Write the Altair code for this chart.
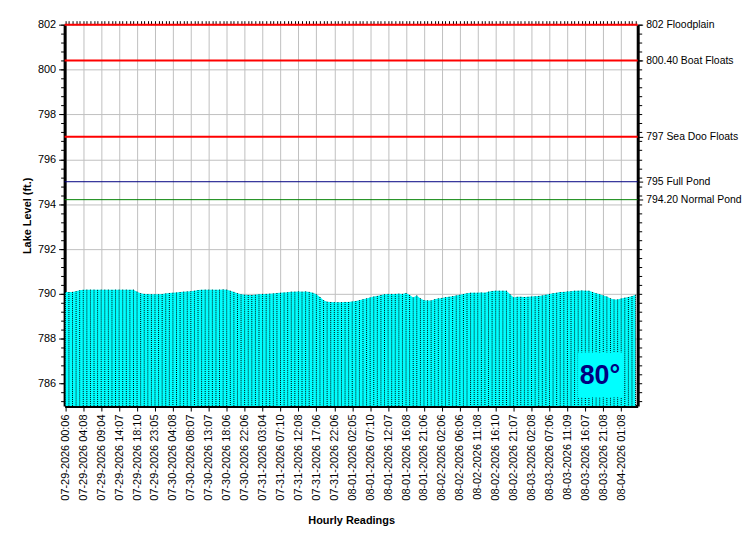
import altair as alt
import pandas as pd

# ---------------- data ----------------
x_labels = [
    "07-29-2026 00:06", "07-29-2026 04:08", "07-29-2026 09:04", "07-29-2026 14:07",
    "07-29-2026 18:10", "07-29-2026 23:05", "07-30-2026 04:08", "07-30-2026 08:07",
    "07-30-2026 13:07", "07-30-2026 18:06", "07-30-2026 22:06", "07-31-2026 03:04",
    "07-31-2026 07:10", "07-31-2026 12:08", "07-31-2026 17:06", "07-31-2026 22:06",
    "08-01-2026 02:05", "08-01-2026 07:10", "08-01-2026 12:07", "08-01-2026 16:08",
    "08-01-2026 21:06", "08-02-2026 02:06", "08-02-2026 06:06", "08-02-2026 11:08",
    "08-02-2026 16:10", "08-02-2026 21:07", "08-03-2026 02:08", "08-03-2026 07:06",
    "08-03-2026 11:09", "08-03-2026 16:07", "08-03-2026 21:08", "08-04-2026 01:08",
]

levels = [
    790.08, 790.08, 790.09, 790.12, 790.16, 790.18, 790.19, 790.19, 790.19, 790.18,
    790.19, 790.19, 790.19, 790.18, 790.19, 790.19, 790.19, 790.19, 790.18, 790.19,
    790.10, 790.03, 790.00, 789.99, 789.98, 789.98, 789.98, 789.99, 790.02, 790.04,
    790.05, 790.06, 790.08, 790.10, 790.11, 790.12, 790.14, 790.17, 790.18, 790.19,
    790.19, 790.19, 790.18, 790.19, 790.20, 790.19, 790.14, 790.09, 790.03, 789.98,
    789.96, 789.95, 789.95, 789.96, 789.98, 790.00, 790.00, 790.01, 790.02, 790.04,
    790.05, 790.06, 790.07, 790.10, 790.10, 790.11, 790.10, 790.11, 790.09, 790.05,
    789.98, 789.86, 789.72, 789.65, 789.64, 789.63, 789.63, 789.63, 789.64, 789.64,
    789.66, 789.68, 789.72, 789.76, 789.80, 789.84, 789.88, 789.91, 789.95, 789.98,
    790.00, 790.00, 790.00, 790.01, 790.00, 790.04, 789.95, 789.84, 789.93, 789.80,
    789.72, 789.71, 789.71, 789.76, 789.80, 789.82, 789.85, 789.87, 789.90, 789.93,
    789.96, 789.99, 790.03, 790.05, 790.05, 790.05, 790.06, 790.05, 790.10, 790.13,
    790.14, 790.14, 790.14, 790.14, 789.98, 789.84, 789.87, 789.87, 789.86, 789.87,
    789.88, 789.89, 789.91, 789.93, 789.96, 790.00, 790.03, 790.05, 790.08, 790.09,
    790.11, 790.12, 790.14, 790.14, 790.15, 790.14, 790.14, 790.08, 790.03, 789.98,
    789.93, 789.88, 789.80, 789.75, 789.75, 789.79, 789.83, 789.86, 789.90, 789.96,
]

ref_values = [802, 800.4, 797, 795, 794.2]
ref_labels = ["802 Floodplain", "800.40 Boat Floats", "797 Sea Doo Floats",
              "795 Full Pond", "794.20 Normal Pond"]
ref_colors = ["#ff0000", "#ff0000", "#ff0000", "#000080", "#008000"]
ref_widths = [2, 2, 2, 1, 1]

y_major = [786, 788, 790, 792, 794, 796, 798, 800, 802]
y_minor = [round(802 - 0.4 * k, 1) for k in range(43)]
temp_text = ["80°"]

# ---------------- tables ----------------
df = pd.DataFrame({"i": list(range(len(levels))), "level": levels})
refs = pd.DataFrame({"v": ref_values, "c": ref_colors, "w": ref_widths})
tdf = pd.DataFrame({"t": temp_text})

n = len(levels)
xs = alt.Scale(domain=[-0.2, n - 0.4], nice=False, zero=False)
ys = alt.Scale(domain=[785, 802], nice=False, zero=False)

x_major = list(range(0, n, 5))[: len(x_labels)]
x_label_expr = "[" + ",".join("'%s'" % s for s in x_labels) + "][round(datum.value/5)]"
ref_label_expr = "".join(
    "datum.value==%s?'%s':" % (v, l) for v, l in zip(ref_values, ref_labels)
) + "''"

FONT = "Liberation Sans"

area = alt.Chart(df).mark_area(color="#00ffff", opacity=1).encode(
    x=alt.X("i:Q", scale=xs, axis=alt.Axis(
        values=x_major, labelExpr=x_label_expr, labelAngle=270,
        labelOverlap=False, labelFlush=False, labelBound=False,
        grid=True, gridColor="#c0c0c0", gridWidth=1,
        tickSize=5, tickColor="black", labelPadding=3,
        domainWidth=3, domainColor="black",
        title="Hourly Readings", titleFontWeight="bold",
        titleY=115, titleBaseline="middle")),
    y=alt.Y("level:Q", scale=ys, axis=alt.Axis(
        orient="left", values=y_major, grid=True, gridColor="#c0c0c0",
        tickSize=6, tickColor="black", labelPadding=3,
        domainWidth=3, domainColor="black", labelFlush=False,
        title="Lake Level (ft.)", titleFontWeight="bold",
        titleAngle=270, titleAlign="center", titleBaseline="middle",
        titleX=-37, titleY=192)),
    y2=alt.datum(785),
)

dots = alt.Chart(df).mark_rule(color="black", strokeDash=[1, 1], strokeWidth=1).encode(
    x=alt.X("i:Q", scale=xs, axis=alt.Axis(
        values=list(range(n)), labels=False, grid=False, domain=False,
        tickSize=4, tickColor="black", title=None)),
    y=alt.Y("level:Q", scale=ys, axis=alt.Axis(
        orient="left", values=y_minor, labels=False, grid=False, domain=False,
        tickSize=4, tickColor="black", title=None)),
    y2=alt.datum(785),
)

reflines = alt.Chart(refs).mark_rule().encode(
    y=alt.Y("v:Q", scale=ys, axis=alt.Axis(
        orient="right", values=ref_values, labelExpr=ref_label_expr,
        tickSize=5, tickColor="black", labelPadding=3, grid=False,
        labelFontSize=10.5,
        domainWidth=3, domainColor="black", title=None, labelFlush=False)),
    color=alt.Color("c:N", scale=None),
    strokeWidth=alt.StrokeWidth("w:Q", scale=None),
)

refminor = alt.Chart(refs).mark_rule(opacity=0).encode(
    y=alt.Y("v:Q", scale=ys, axis=alt.Axis(
        orient="right", values=y_minor, labels=False, grid=False, domain=False,
        tickSize=4, tickColor="black", title=None)),
)

box = alt.Chart(tdf).mark_rect(color="#00ffff", opacity=1).encode(
    x=alt.value(517), x2=alt.value(563), y=alt.value(330), y2=alt.value(375))

txt = alt.Chart(tdf).mark_text(
    font=FONT, fontSize=27, fontWeight="bold", color="#000080",
    align="center", baseline="middle").encode(
    text="t:N", x=alt.value(539), y=alt.value(354))

chart = alt.layer(area, dots, reflines, refminor, box, txt).resolve_scale(
    x="shared", y="shared").resolve_axis(x="independent", y="independent").properties(
    width=577, height=384,
    autosize=alt.AutoSizeParams(type="none"),
    padding={"left": 57, "top": 15, "right": 105, "bottom": 125},
    background="white",
).configure_view(stroke=None).configure_axis(
    labelFont=FONT, labelFontSize=11, labelColor="black",
    titleFont=FONT, titleFontSize=11, titleColor="black",
)

chart.save("out.html", embed_options={"renderer": "svg", "actions": False})
